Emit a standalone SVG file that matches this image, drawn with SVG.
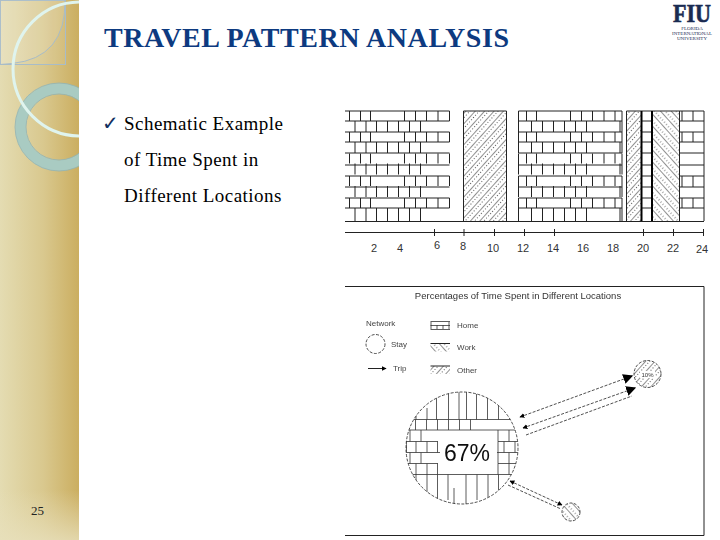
<svg xmlns="http://www.w3.org/2000/svg" width="720" height="540" viewBox="0 0 720 540">
<style>
.ln{fill:none;stroke:#222;stroke-width:1}
.in{fill:none;stroke:#333;stroke-width:.8}
.thick{fill:none;stroke:#000;stroke-width:2}
.dash{fill:none;stroke:#222;stroke-width:.8;stroke-dasharray:3 1.5}
.tick{font-family:"Liberation Sans",Arial,sans-serif;font-size:11px;fill:#333;text-anchor:middle}
.lg{font-family:"Liberation Sans",Arial,sans-serif;font-size:8px;fill:#444}
.body{font-family:"Liberation Serif","Times New Roman",serif;font-size:19px;fill:#000;letter-spacing:.47px}
.logo{font-family:"Liberation Serif","Times New Roman",serif;fill:#1a2b52;text-anchor:middle}
</style>
<defs>
<linearGradient id="side" x1="0" x2="1" y1="0" y2="0"><stop offset="0" stop-color="#e4dcb2"/><stop offset=".55" stop-color="#d9c88e"/><stop offset="1" stop-color="#cbae60"/></linearGradient>
<linearGradient id="sideLow" x1="0" y1="0" x2="0" y2="1"><stop offset="0" stop-color="#e8e0bc" stop-opacity="0"/><stop offset="1" stop-color="#e8e0bc" stop-opacity=".8"/></linearGradient>
<filter id="soft" x="-2%" y="-2%" width="104%" height="104%"><feGaussianBlur stdDeviation=".35"/></filter>
<clipPath id="sideClip"><rect width="79" height="540"/></clipPath>
<clipPath id="bigClip"><circle cx="462" cy="448" r="56"/></clipPath>
<pattern id="fwd" width="7" height="6" patternUnits="userSpaceOnUse" patternTransform="rotate(42)">
<rect width="7" height="6" fill="#fff"/><path d="M0 0V6" stroke="#222" stroke-width="1"/><circle cx="3.500" cy="1.500" r=".5" fill="#222"/><circle cx="3.500" cy="4.500" r=".5" fill="#222"/>
</pattern>
<pattern id="bck" width="8" height="6" patternUnits="userSpaceOnUse" patternTransform="rotate(-42)">
<rect width="8" height="6" fill="#fff"/><path d="M0 0V6" stroke="#222" stroke-width="1"/><circle cx="4" cy="1.500" r=".5" fill="#222"/><circle cx="4" cy="4.500" r=".5" fill="#222"/>
</pattern>
<marker id="ah" viewBox="0 0 8 8" refX="7" refY="4" markerWidth="5" markerHeight="5" orient="auto-start-reverse" markerUnits="userSpaceOnUse"><path d="M0 0L8 4L0 8Z" fill="#000"/></marker>
<marker id="ahL" viewBox="0 0 8 8" refX="7" refY="4" markerWidth="10" markerHeight="10" orient="auto" markerUnits="userSpaceOnUse"><path d="M0 0L8 4L0 8Z" fill="#000"/></marker>
<path id="pairA" class="ln" d="M349.500 0V10M360.500 0V10M370.500 0V10M404.500 0V10M415.500 0V10M426.500 0V10M438 0V10M449.500 0V10M355 10V21M366 10V21M376.500 10V21M387.500 10V21M398.500 10V21M409.500 10V21M420.500 10V21"/>
<path id="pairB" class="ln" d="M518.500 0V21M526.500 0V10M536.500 0V10M570.500 0V10M581.500 0V10M592.500 0V10M604 0V10M615 0V10M622 0V21M531.500 10V21M542.500 10V21M553.500 10V21M564.500 10V21M575.500 10V21M586.500 10V21M620 10V21"/>
</defs>

<g id="background">
<rect width="720" height="540" fill="#fff"/>
<rect width="79" height="540" fill="url(#side)"/>
<rect y="490" width="79" height="50" fill="url(#sideLow)"/>
<g clip-path="url(#sideClip)">
<rect x=".5" y=".5" width="65" height="64" fill="#fff" fill-opacity=".08" stroke="#a8bcc8"/>
<path d="M65 0Q66 58 12 63.500L0 64.500V0Z" fill="#fff" fill-opacity=".1" stroke="#a8bcc8"/>
<circle cx="59" cy="127" r="38.500" fill="none" stroke="#a9cbc2" stroke-width="10.500"/>
<circle cx="59" cy="127" r="44" fill="none" stroke="#8fb4b8" stroke-width=".8"/>
<circle cx="59" cy="127" r="33" fill="none" stroke="#8fb4b8" stroke-width=".8"/>
<circle cx="80" cy="69" r="67" fill="none" stroke="#dff4ee" stroke-width="3"/>
</g>
</g>

<g id="title"><text x="104" y="47" font-family="'Liberation Serif','Times New Roman',serif" font-size="28" font-weight="700" fill="#0d3a80" textLength="405" lengthAdjust="spacing">TRAVEL PATTERN ANALYSIS</text></g>

<g id="bullets">
<text x="102" y="130" font-family="'DejaVu Sans',sans-serif" font-size="20" font-weight="700" fill="#12305f">✓</text>
<text x="124" y="129.500" class="body">Schematic Example</text>
<text x="124" y="165.500" class="body">of Time Spent in</text>
<text x="124" y="201.500" class="body">Different Locations</text>
</g>

<g id="page-number"><text x="31" y="515" font-family="'Liberation Serif','Times New Roman',serif" font-size="13" fill="#222">25</text></g>

<g id="logo">
<text x="692" y="21.500" class="logo" font-size="25" font-weight="700" stroke="#1a2b52" stroke-width=".6" textLength="38" lengthAdjust="spacingAndGlyphs">FIU</text>
<text x="692" y="30" class="logo" font-size="5">FLORIDA</text>
<text x="692" y="35" class="logo" font-size="5">INTERNATIONAL</text>
<text x="692" y="40" class="logo" font-size="5">UNIVERSITY</text>
</g>

<g id="timeline-chart">
<rect x="463.500" y="111" width="43" height="110" fill="url(#fwd)"/>
<rect x="626.500" y="111" width="15" height="110" fill="url(#fwd)"/>
<rect x="652.500" y="111" width="27" height="110" fill="url(#bck)"/>
<path class="ln" d="M345 111H449.500M345 121H449.500M345 132H449.500M345 142H449.500M345 153H449.500M345 165H449.500M345 176H449.500M345 187H449.500M345 198H449.500M345 208H449.500M345 221.500H704M518.500 111H622M518.500 121H622M518.500 132H622M518.500 142H622M518.500 153H622M518.500 165H622M518.500 176H622M518.500 187H622M518.500 198H622M518.500 208H622M463.500 111H506.500M626.500 111H704M680 121H704M680 132H704M680 142H704M680 153H704M680 165H704M680 176H704M680 187H704M680 198H704M680 208H704M642 121H652M642 132H652M642 142H652M642 153H652M642 165H652M642 176H652M642 187H652M642 198H652M642 208H652"/>
<use href="#pairA" y="111"/><use href="#pairA" y="132"/><use href="#pairA" y="153.500"/><use href="#pairA" y="176"/><use href="#pairA" y="198"/>
<use href="#pairB" y="111"/><use href="#pairB" y="132"/><use href="#pairB" y="153.500"/><use href="#pairB" y="176"/><use href="#pairB" y="198"/>
<path class="ln" d="M355 219V221M366 219V221M376.500 219V221M387.500 219V221M398.500 219V221M409.500 219V221M420.500 219V221M518.500 219V221M531.500 219V221M542.500 219V221M553.500 219V221M564.500 219V221M575.500 219V221M586.500 219V221M620 219V221M622 219V221"/>
<path class="ln" d="M463.500 111V221M506.500 111V221M626.500 111V221M679.500 111V221M682 111V121M693 111V121M704 111V221M682 132V142M693 132V142M682 176V187M693 176V187M682 198V208M693 198V208"/>
<path class="thick" d="M641.500 111V221M652 111V221"/>
</g>

<g id="timeline-axis">
<path class="ln" d="M345 232.500H704M434.500 229V236M464 229V236M494.500 229V236M524.500 229V236M554.500 229V236M643.500 229V236M673.500 229V236M703.500 229V236"/>
<text x="374" y="252" class="tick">2</text><text x="400" y="252" class="tick">4</text><text x="437" y="249" class="tick">6</text><text x="463" y="250" class="tick">8</text><text x="493" y="252" class="tick">10</text><text x="523" y="252" class="tick">12</text><text x="553" y="252" class="tick">14</text><text x="583" y="252" class="tick">16</text><text x="613" y="252" class="tick">18</text><text x="643" y="252" class="tick">20</text><text x="673" y="252" class="tick">22</text><text x="702" y="253" class="tick">24</text>
</g>

<g id="network-figure" filter="url(#soft)">
<g id="frame">
<path class="ln" d="M345 286.500H704V535.500H345"/>
<text x="518" y="299" font-family="'Liberation Sans',Arial,sans-serif" font-size="9.500" fill="#333" text-anchor="middle">Percentages of Time Spent in Different Locations</text>
</g>

<g id="legend">
<text x="366" y="326" class="lg">Network</text>
<circle cx="375.500" cy="344" r="9.500" class="dash"/>
<text x="391" y="347" class="lg">Stay</text>
<path d="M368 368.500H386" class="ln" marker-end="url(#ah)"/>
<text x="393" y="371" class="lg">Trip</text>
<path class="in" d="M430.500 321.500H450M430.500 329.500H450M431 322V329M437 325V329M443 325V329M449 322V329M430.500 325.500H450"/>
<rect x="430.500" y="343.500" width="19.500" height="8" fill="url(#bck)"/><path class="ln" d="M430.500 343.500H450"/>
<rect x="430.500" y="366" width="19.500" height="8" fill="url(#fwd)"/><path class="ln" d="M430.500 366H450"/>
<text x="457" y="328" class="lg">Home</text>
<text x="457" y="350" class="lg">Work</text>
<text x="457" y="373" class="lg">Other</text>
</g>

<g id="connectors">
<path class="dash" d="M520 417L632 376" marker-start="url(#ah)" marker-end="url(#ahL)"/>
<path class="dash" d="M523 428L635 388" marker-start="url(#ah)" marker-end="url(#ahL)"/>
<path class="dash" d="M526 435L632 396"/>
<path class="dash" d="M510 481L562 505" marker-start="url(#ah)" marker-end="url(#ah)"/>
<path class="dash" d="M508 485L561 509"/>
</g>

<g id="node-home">
<circle cx="462" cy="448" r="56" fill="#fff"/>
<g clip-path="url(#bigClip)">
<path class="in" d="M406 419.500H518M406 430H518M406 441.500H438M498 441.500H518M406 452.500H440M497 452.500H518M406 463.500H438M498 463.500H518M406 474.500H518"/>
<path class="in" d="M436.500 392V419.500M448.500 392V419.500M459 392V419.500M466.500 392V419.500M476.500 392V419.500M487.500 392V419.500M498.500 392V419.500M416 408V419.500M427 408V419.500M415.500 419.500V430M426.500 419.500V430M437.500 419.500V430M448.500 419.500V430M459.500 419.500V430M470.500 419.500V430M410 430V441.500M421 430V441.500M498 430V441.500M509 430V441.500M406.500 441.500V452.500M416 441.500V452.500M427 441.500V452.500M437.500 441.500V452.500M498 441.500V452.500M504 441.500V452.500M515 441.500V452.500M410 452.500V463.500M421 452.500V463.500M498 452.500V463.500M509 452.500V463.500M416 463.500V474.500M427 463.500V474.500M437.500 463.500V474.500M498 463.500V474.500M509 463.500V474.500M416 474.500V500M427 474.500V500M437.500 474.500V500M448 474.500V500M454 488V504M466 474.500V504M477 474.500V500M488 474.500V500M498.500 474.500V490"/>
</g>
<circle cx="462" cy="448" r="56" class="dash"/>
<text x="467" y="461" font-family="'Liberation Sans',Arial,sans-serif" font-size="23" fill="#111" text-anchor="middle">67%</text>
</g>

<g id="node-work">
<circle cx="647.500" cy="374" r="13.500" fill="url(#fwd)" stroke="#222" stroke-width=".8" stroke-dasharray="3 1.500"/>
<rect x="640" y="371" width="15" height="7" fill="#fff"/>
<text x="647.500" y="377" font-family="'Liberation Sans',Arial,sans-serif" font-size="6" fill="#333" text-anchor="middle">10%</text>
</g>

<g id="node-other">
<circle cx="571" cy="512" r="9" fill="url(#bck)" stroke="#222" stroke-width=".8" stroke-dasharray="3 1.500"/>
</g>
</g>
</svg>
